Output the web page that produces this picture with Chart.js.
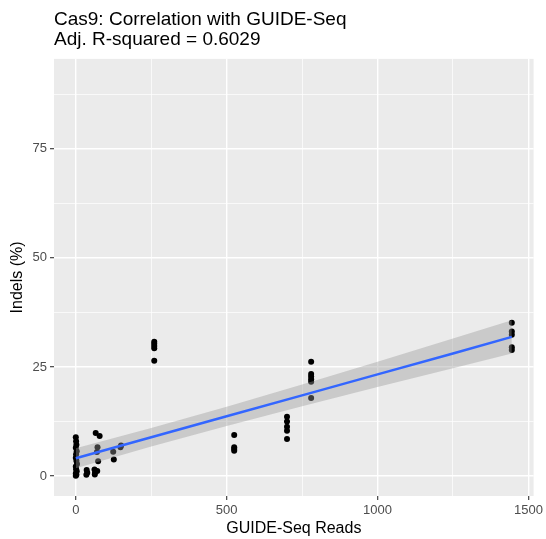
<!DOCTYPE html>
<html>
<head>
<meta charset="utf-8">
<script src="https://cdn.jsdelivr.net/npm/chart.js@4"></script>
<style>
  body { margin: 0; background: #ffffff; }
  #wrap { width: 546px; height: 539px; }
</style>
</head>
<body>
<div id="wrap"><canvas id="myChart" width="546" height="539"></canvas></div>
<script>
// puntos (GUIDE-Seq reads vs indels %)
const readsX = [
  0, 1, 2, 0, 3, 1, 0, 2, 4, 0, 1, 3, 0, 2, 0,
  36, 38, 35,
  62, 64, 63,
  66, 79, 72, 70, 74, 71,
  124, 126,
  150, 148,
  260, 260, 260, 260, 260,
  525, 525, 525, 525,
  700, 700, 700, 700, 700,
  780, 780, 780, 780, 780, 780,
  1445, 1445, 1445, 1445, 1445
];
const indelsY = [
  8.9, 8.0, 7.2, 6.5, 5.7, 5.0, 4.2, 3.5, 2.8, 2.2, 1.6, 1.1, 0.6, 0.3, 0.1,
  1.4, 0.8, 0.3,
  1.5, 0.9, 0.4,
  9.9, 9.2, 6.6, 5.5, 3.4, 1.2,
  5.6, 3.8,
  7.0, 6.6,
  30.8, 30.3, 29.8, 29.3, 26.4,
  9.4, 6.6, 6.2, 5.8,
  13.6, 12.5, 11.3, 10.4, 8.5,
  26.2, 23.4, 22.8, 22.2, 21.6, 17.9,
  35.1, 33.1, 32.4, 29.5, 28.9
];

// recta de regresion y banda de confianza
const fitX = [0, 250, 500, 750, 1000, 1250, 1445];
const fitY = [4.1, 8.9, 13.7, 18.5, 23.3, 28.1, 31.9];
const bandUpper = [6.4, 11.0, 15.9, 21.0, 26.2, 31.5, 35.7];
const bandLower = [1.8, 6.8, 11.5, 16.0, 20.4, 24.7, 28.1];

// ticks (mayores con etiqueta, menores solo rejilla)
const xTicksMajor = [0, 500, 1000, 1500];
const xTicksMinor = [250, 750, 1250];
const yTicksMajor = [0, 25, 50, 75];
const yTicksMinor = [12.5, 37.5, 62.5, 87.5];

const titleLines = ['Cas9: Correlation with GUIDE-Seq', 'Adj. R-squared = 0.6029'];

const toXY = (xs, ys) => xs.map((x, i) => ({ x: x, y: ys[i] }));
const mkTicks = (major, minor) => major.concat(minor).sort((a, b) => a - b).map(v => ({ value: v }));

const panelBg = {
    id: 'panelBg',
    beforeDraw(chart) {
        const { ctx, chartArea } = chart;
        ctx.save();
        ctx.fillStyle = '#EBEBEB';
        ctx.fillRect(chartArea.left, chartArea.top, chartArea.right - chartArea.left, chartArea.bottom - chartArea.top);
        ctx.restore();
    }
};

const ctx = document.getElementById('myChart');
const fontFam = '"Liberation Sans", Arial, Helvetica, sans-serif';

new Chart(ctx, {
    type: 'scatter',
    data: {
        datasets: [
            {
                label: 'puntos',
                data: toXY(readsX, indelsY),
                backgroundColor: '#000000',
                borderWidth: 0,
                pointRadius: 3,
                order: 4
            },
            {
                label: 'upper',
                data: toXY(fitX, bandUpper),
                showLine: true,
                pointRadius: 0,
                borderWidth: 0,
                borderColor: 'rgba(0,0,0,0)',
                backgroundColor: 'rgba(153,153,153,0.4)',
                fill: '+1',
                order: 2
            },
            {
                label: 'lower',
                data: toXY(fitX, bandLower),
                showLine: true,
                pointRadius: 0,
                borderWidth: 0,
                borderColor: 'rgba(0,0,0,0)',
                fill: false,
                order: 3
            },
            {
                label: 'fit',
                data: toXY(fitX, fitY),
                showLine: true,
                pointRadius: 0,
                borderColor: '#3366FF',
                borderWidth: 2.5,
                fill: false,
                order: 1
            }
        ]
    },
    options: {
        responsive: false,
        animation: false,
        layout: { padding: { left: 0, right: 9, top: 0, bottom: 0 } },
        plugins: {
            legend: { display: false },
            tooltip: { enabled: false },
            title: {
                display: true,
                text: titleLines,
                align: 'start',
                fullSize: false,
                color: '#000000',
                font: { family: fontFam, size: 19, weight: 'normal', lineHeight: 1.05 },
                padding: { top: 10, bottom: 9 }
            }
        },
        scales: {
            x: {
                type: 'linear',
                min: -72.25,
                max: 1517.25,
                border: { display: false },
                afterBuildTicks: s => { s.ticks = mkTicks(xTicksMajor, xTicksMinor); },
                afterFit: s => { s.height = 43; },
                ticks: {
                    autoSkip: false,
                    maxRotation: 0,
                    padding: 3,
                    color: '#4D4D4D',
                    font: { family: fontFam, size: 13 },
                    callback: v => xTicksMajor.includes(v) ? String(v) : ''
                },
                grid: {
                    color: '#FFFFFF',
                    lineWidth: c => (c.tick && xTicksMajor.includes(c.tick.value)) ? 1.4 : 0.7,
                    tickColor: c => (c.tick && xTicksMajor.includes(c.tick.value)) ? '#333333' : 'rgba(0,0,0,0)',
                    tickLength: 4,
                    tickWidth: 1.1
                },
                title: {
                    display: true,
                    text: 'GUIDE-Seq Reads',
                    color: '#000000',
                    font: { family: fontFam, size: 16 },
                    padding: { top: 0, bottom: 1 }
                }
            },
            y: {
                type: 'linear',
                min: -4.55,
                max: 95.55,
                border: { display: false },
                afterBuildTicks: s => { s.ticks = mkTicks(yTicksMajor, yTicksMinor); },
                afterFit: s => { s.width = 54; },
                ticks: {
                    autoSkip: false,
                    padding: 3,
                    color: '#4D4D4D',
                    font: { family: fontFam, size: 13 },
                    callback: v => yTicksMajor.includes(v) ? String(v) : ''
                },
                grid: {
                    color: '#FFFFFF',
                    lineWidth: c => (c.tick && yTicksMajor.includes(c.tick.value)) ? 1.4 : 0.7,
                    tickColor: c => (c.tick && yTicksMajor.includes(c.tick.value)) ? '#333333' : 'rgba(0,0,0,0)',
                    tickLength: 4,
                    tickWidth: 1.1
                },
                title: {
                    display: true,
                    text: 'Indels (%)',
                    color: '#000000',
                    font: { family: fontFam, size: 16 },
                    padding: { top: 8, bottom: 0 }
                }
            }
        }
    },
    plugins: [panelBg]
});
</script>
</body>
</html>
